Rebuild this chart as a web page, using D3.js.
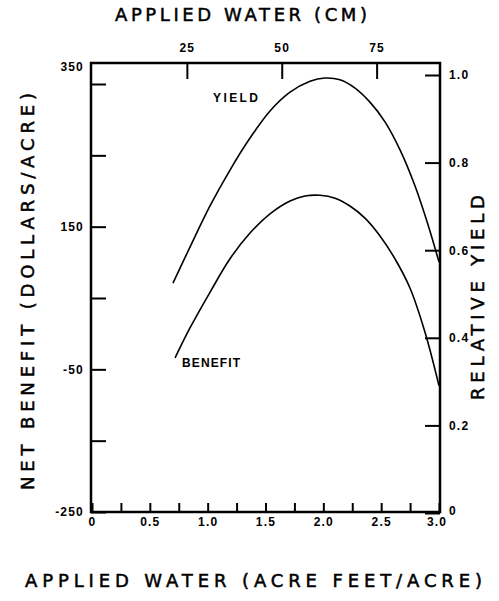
<!DOCTYPE html>
<html>
<head>
<meta charset="utf-8">
<script src="https://cdn.jsdelivr.net/npm/d3@7"></script>
<style>
  body { margin: 0; background: #fff; }
  text { fill: #000; }
  .tick text { font-family: "Liberation Sans", Arial, sans-serif; font-weight: bold; font-size: 12px; letter-spacing: 1.2px; }
  .title { font-family: "DejaVu Sans", sans-serif; font-size: 18px; stroke: #000; stroke-width: 0.5px; }
</style>
</head>
<body>
<div class="js-canvas"></div>
<script>
'use strict';

// applied water, acre feet / acre
const yieldWater   = [0.70, 0.847, 1.02, 1.193, 1.366, 1.539, 1.712, 1.885, 2.014, 2.144, 2.274, 2.403, 2.533, 2.663, 2.792, 2.905, 3.00];
// relative yield (right axis)
const yieldValues  = [0.525, 0.607, 0.701, 0.783, 0.856, 0.918, 0.961, 0.986, 0.993, 0.989, 0.970, 0.938, 0.893, 0.829, 0.747, 0.658, 0.573];

const benefitWater  = [0.718, 0.847, 1.02, 1.193, 1.366, 1.539, 1.712, 1.841, 1.971, 2.101, 2.23, 2.36, 2.49, 2.619, 2.749, 2.879, 3.00];
// net benefit, dollars / acre (left axis)
const benefitValues = [-34, 8, 58, 105, 141, 168, 186, 193, 194, 190, 179, 162, 137, 105, 64, 2, -73];

const leftTicks   = [-250, -150, -50, 50, 150, 250, 350];
const leftLabels  = [-250, -50, 150, 350];
const bottomTicks = [0, 0.25, 0.5, 0.75, 1, 1.25, 1.5, 1.75, 2, 2.25, 2.5, 2.75, 3];
const bottomLabels = [0, 0.5, 1, 1.5, 2, 2.5, 3];
const rightTicks  = [0, 0.2, 0.4, 0.6, 0.8, 1.0];
const topTicks    = [25, 50, 75]; // cm

const config = {
    width: 499,
    height: 601,
    left: 91,
    right: 440,
    top: 63,
    bottom: 512
};

const svg = d3.select('.js-canvas')
    .append('svg')
    .attr('width', config.width)
    .attr('height', config.height);

svg.append('rect').attr('width', config.width).attr('height', config.height).attr('fill', '#fff');

const x = d3.scaleLinear().domain([0, 3]).range([92, 439]);
const xCm = d3.scaleLinear().domain([0, 3 * 30.48]).range([92, 439]);
const yLeft = d3.scaleLinear().domain([-250, 350]).range([512, 84]);
const yRight = d3.scaleLinear().domain([0, 1]).range([513, 75]);

// axes
const styleAxis = g => {
    g.select('.domain').remove();
    g.selectAll('.tick line').attr('stroke', '#000').attr('stroke-width', 2);
};

svg.append('g')
    .attr('transform', `translate(${config.left},0)`)
    .call(d3.axisLeft(yLeft).tickValues(leftTicks).tickSizeInner(-15).tickSizeOuter(0).tickPadding(7)
        .tickFormat(d => leftLabels.includes(d) ? d3.format('')(d).replace('\u2212', '-') : ''))
    .call(styleAxis)
    .call(g => g.selectAll('.tick text').filter(d => d === 350).attr('dy', '-1.1em'));

svg.append('g')
    .attr('transform', `translate(0,${config.bottom})`)
    .call(d3.axisBottom(x).tickValues(bottomTicks).tickSizeInner(-9).tickSizeOuter(0).tickPadding(5)
        .tickFormat(d => bottomLabels.includes(d) ? (d === 0 ? '0' : d3.format('.1f')(d)) : ''))
    .call(styleAxis)
    .call(g => g.selectAll('.tick text').filter(d => d === 3).attr('dx', '-0.2em'));

svg.append('g')
    .attr('transform', `translate(0,${config.top})`)
    .call(d3.axisTop(xCm).tickValues(topTicks).tickSizeInner(-16).tickSizeOuter(0).tickPadding(11)
        .tickFormat(d3.format('d')))
    .call(styleAxis);

svg.append('g')
    .attr('transform', `translate(${config.right},0)`)
    .call(d3.axisRight(yRight).tickValues(rightTicks).tickSizeInner(-15).tickSizeOuter(0).tickPadding(9)
        .tickFormat(d => d === 0 ? '0' : d3.format('.1f')(d)))
    .call(styleAxis)
    .call(g => g.selectAll('.tick text').filter(d => d === 0).attr('dy', '0.1em'));

// frame
svg.append('rect')
    .attr('x', config.left)
    .attr('y', config.top)
    .attr('width', config.right - config.left)
    .attr('height', config.bottom - config.top)
    .attr('fill', 'none')
    .attr('stroke', '#000')
    .attr('stroke-width', 2.5);

// curves
const yieldLine = d3.line()
    .x(d => x(d[0]))
    .y(d => yRight(d[1]))
    .curve(d3.curveCatmullRom);

const benefitLine = d3.line()
    .x(d => x(d[0]))
    .y(d => yLeft(d[1]))
    .curve(d3.curveCatmullRom);

svg.append('path')
    .datum(d3.zip(yieldWater, yieldValues))
    .attr('d', yieldLine)
    .attr('fill', 'none')
    .attr('stroke', '#000')
    .attr('stroke-width', 1.6);

svg.append('path')
    .datum(d3.zip(benefitWater, benefitValues))
    .attr('d', benefitLine)
    .attr('fill', 'none')
    .attr('stroke', '#000')
    .attr('stroke-width', 1.6);

// curve labels
const curveLabel = (txt, px, py, len) => svg.append('text')
    .attr('x', px).attr('y', py)
    .attr('textLength', len).attr('lengthAdjust', 'spacing')
    .style('font-family', '"Liberation Sans", Arial, sans-serif')
    .style('font-weight', 'bold')
    .style('font-size', '12px')
    .text(txt);

curveLabel('YIELD', 213, 102, 45);
curveLabel('BENEFIT', 182, 367, 58);

// titles
svg.append('text')
    .attr('class', 'title')
    .attr('x', 115).attr('y', 21)
    .attr('textLength', 252).attr('lengthAdjust', 'spacing')
    .text('APPLIED WATER (CM)');

svg.append('text')
    .attr('class', 'title')
    .attr('x', 25).attr('y', 587)
    .attr('textLength', 457).attr('lengthAdjust', 'spacing')
    .text('APPLIED WATER (ACRE FEET/ACRE)');

svg.append('text')
    .attr('class', 'title')
    .attr('transform', 'translate(34,490) rotate(-90)')
    .attr('textLength', 397).attr('lengthAdjust', 'spacing')
    .text('NET BENEFIT (DOLLARS/ACRE)');

svg.append('text')
    .attr('class', 'title')
    .attr('transform', 'translate(484,400) rotate(-90)')
    .attr('textLength', 205).attr('lengthAdjust', 'spacing')
    .text('RELATIVE YIELD');
</script>
</body>
</html>
